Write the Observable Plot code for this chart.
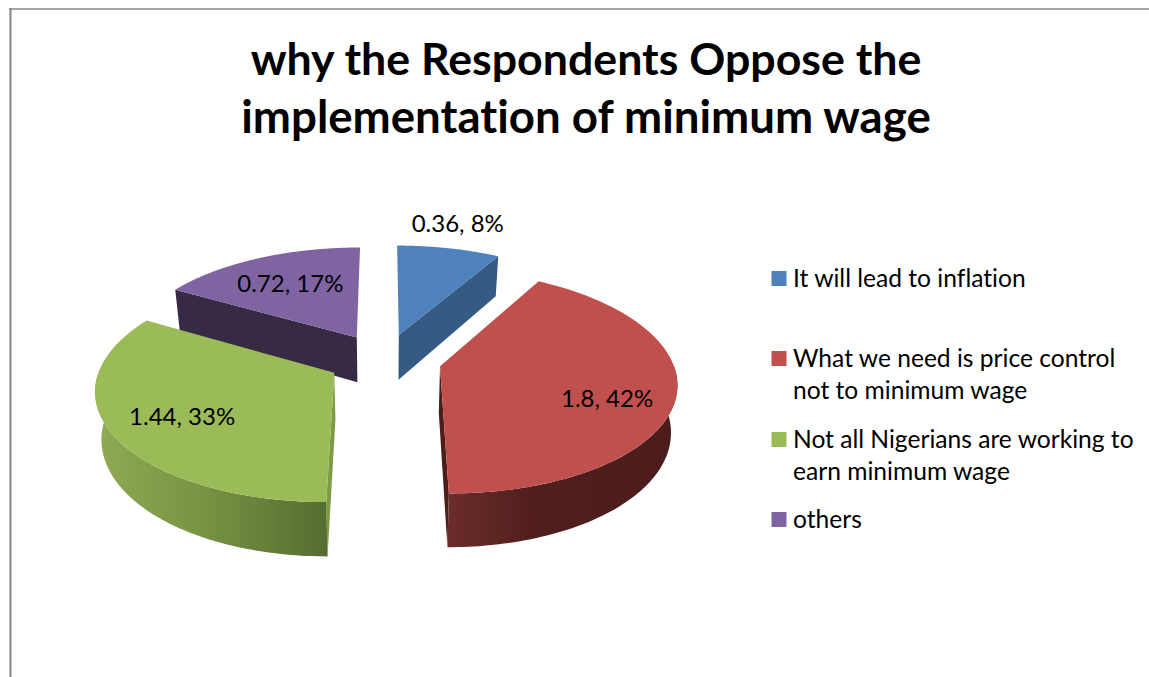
<!DOCTYPE html>
<html>
<head>
<meta charset="utf-8">
<script src="https://cdn.jsdelivr.net/npm/d3@7"></script>
<script src="https://cdn.jsdelivr.net/npm/@observablehq/plot@0.6"></script>
<style>html,body{margin:0;padding:0;background:#fff;overflow:hidden}svg{display:block}</style>
</head>
<body>
<div id="chart"></div>
<script>
const titleLines = ["why the Respondents Oppose the", "implementation of minimum wage"];
const categories = ["It will lead to inflation", "What we need is price control\nnot to minimum wage", "Not all Nigerians are working to\nearn minimum wage", "others"];
const values = [0.36, 1.8, 1.44, 0.72];
const topColors = ["#4f81bd", "#c0504d", "#9bbb59", "#8064a2"];
const cutColors = ["#355a84", "#4b1d1b", "#7d9a45", "#372a45"];
const FONT = "Lato, Carlito, sans-serif";

// Projection of the tilted, exploded pie
const R = 232, EX = 57, EZ = 56, H = 46, TILT = 0.465, D = 1707, CX = 384, CY = 359, TAPER = 0.022;
const labelRadius = [1.32, 0.735, 0.71, 0.653];
const labelAngle = [13.9, 113, 237.7, 330.1];
const legendRows = [278, 358, 439, 519];
const total = d3.sum(values);
const arcs = d3.pie().sort(null)(values);
const rad = Math.PI / 180;

function project(slice, t, r, down) {
  const m = (slice.startAngle + slice.endAngle) / 2;
  const X = r * R * Math.sin(t) + EX * Math.sin(m);
  const Z = r * R * Math.cos(t) + EZ * Math.cos(m);
  const s = 1 / (1 + Z / D);
  return {x: CX + X * s * (1 - TAPER * down), y: CY - TILT * Z * s + down * H * s};
}
function arcPoints(slice, a0, a1, down) {
  return d3.range(0, 81).map(i => project(slice, a0 + (a1 - a0) * i / 80, 1, down));
}
const polygons = [];
const wallGradient = ["", "url(#wallRed)", "url(#wallGreen)", ""];
// back slices first, then the two front slices
[3, 0, 1, 2].forEach(i => {
  const a = arcs[i], o = project(a, 0, 0, 0), oDown = project(a, 0, 0, 1);
  const cut = ang => [o, project(a, ang, 1, 0), project(a, ang, 1, 1), oDown];
  if (i === 0) polygons.push({pts: cut(a.endAngle), fill: cutColors[0]});
  if (i === 3) polygons.push({pts: cut(a.startAngle), fill: cutColors[3]});
  if (i === 1) polygons.push({pts: cut(a.endAngle), fill: cutColors[1]});
  if (i === 2) polygons.push({pts: cut(a.startAngle), fill: cutColors[2]});
  if (i === 1 || i === 2) {
    const lo = Math.max(a.startAngle, 90 * rad), hi = Math.min(a.endAngle, 270 * rad);
    polygons.push({pts: [...arcPoints(a, lo, hi, 0), ...arcPoints(a, hi, lo, 1)], fill: wallGradient[i]});
  }
  polygons.push({pts: [o, ...arcPoints(a, a.startAngle, a.endAngle, 0)], fill: topColors[i]});
});

const dataLabels = arcs.map((a, i) => ({
  ...project(a, labelAngle[i] * rad, labelRadius[i], 0),
  text: `${values[i]}, ${Math.round(values[i] / total * 100)}%`
}));
const legend = categories.map((c, i) => ({c, color: topColors[i], y: legendRows[i]}));
const titleRows = titleLines.map((t, i) => ({t, y: [60, 118][i], size: [44.7, 45.6][i]}));

const defs = () => {
  const d = d3.create("svg:defs");
  const grad = (id, x1, x2, stops) => {
    const g = d.append("linearGradient").attr("id", id).attr("gradientUnits", "userSpaceOnUse")
      .attr("x1", x1).attr("x2", x2).attr("y1", 0).attr("y2", 0);
    stops.forEach(([o, c]) => g.append("stop").attr("offset", o).attr("stop-color", c));
  };
  grad("wallRed", 447, 677, [[0, "#6b2d2a"], [0.35, "#521f1d"], [1, "#4a1c1b"]]);
  grad("wallGreen", 100, 327, [[0, "#8faa52"], [0.45, "#789343"], [1, "#576c30"]]);
  return d.node();
};

const chart = Plot.plot({
  width: 1149, height: 677,
  margin: 0,
  x: {domain: [0, 1149], range: [0, 1149], axis: null},
  y: {domain: [0, 677], range: [0, 677], axis: null},
  style: {background: "#fff", fontFamily: FONT, fontVariantLigatures: "none"},
  marks: [
    defs,
    Plot.ruleX([10], {y1: 8, y2: 677, stroke: "#868686", strokeWidth: 2}),
    Plot.ruleY([8.5], {x1: 9, x2: 1149, stroke: "#868686", strokeWidth: 1.5}),
    ...polygons.map(p => Plot.line(p.pts, {x: "x", y: "y", fill: p.fill, stroke: "none"})),
    Plot.text(titleRows, {x: () => 585.5, y: "y", text: "t", fontSize: "size", fontWeight: 700, fill: "#000", textAnchor: "middle", lineAnchor: "middle"}),
    Plot.text(dataLabels, {x: "x", y: "y", text: "text", fontSize: 24, fill: "#000", textAnchor: "middle", lineAnchor: "middle"}),
    Plot.dot(legend, {x: () => 778.5, y: "y", symbol: "square", r: 8.46, fill: "color", stroke: "none"}),
    Plot.text(legend, {x: () => 792.5, y: "y", text: "c", fontSize: 24.6, fill: "#000", textAnchor: "start", lineAnchor: "top", dy: -15, lineHeight: 1.32})
  ]
});
document.getElementById("chart").appendChild(chart);
</script>
</body>
</html>
